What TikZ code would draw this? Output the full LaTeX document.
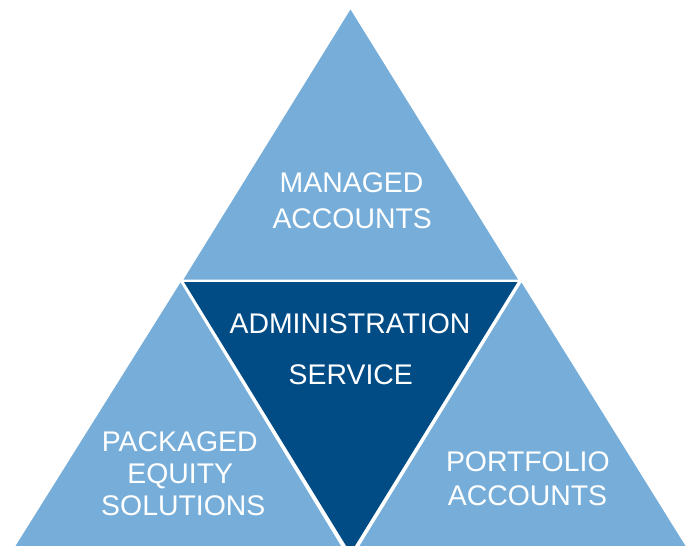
\documentclass[tikz,border=0pt]{standalone}
\usepackage{fontspec}
\setmainfont{Liberation Sans}
\definecolor{lightblu}{HTML}{76AED9}
\definecolor{darkblu}{HTML}{024C86}
\begin{document}
\begin{tikzpicture}[x=1pt,y=-1pt,
  lbl/.style={anchor=base,inner sep=0pt,text=white,font=\fontsize{28.4}{34}\selectfont},
  lighttri/.style={fill=lightblu},
  darktri/.style={fill=darkblu}]
\useasboundingbox (0,0) rectangle (691,546);
\clip (0,0) rectangle (691,546);
\fill[white] (0,0) rectangle (691,546);
% triangles
\fill[lighttri] (350.5,9.5) -- (183.5,279.5) -- (518,279.5) -- cycle;
\fill[darktri] (184,282) -- (517.5,282) -- (350.5,553) -- cycle;
\fill[lighttri] (180.5,282.5) -- (15.5,546) -- (341,546) -- cycle;
\fill[lighttri] (521.5,282.5) -- (359.5,546) -- (685.5,546) -- cycle;
% labels
\node[lbl] (ma1) at (351.5,192.3) {MANAGED};
\node[lbl] (ma2) at (352.2,228.3) {ACCOUNTS};
\node[lbl] (ad1) at (350,333.3) {ADMINISTRATION};
\node[lbl] (ad2) at (350.8,384) {SERVICE};
\node[lbl] (pe1) at (179.7,451.7) {PACKAGED};
\node[lbl] (pe2) at (180.3,483) {EQUITY};
\node[lbl] (pe3) at (183.3,515) {SOLUTIONS};
\node[lbl] (pa1) at (527.8,471.7) {PORTFOLIO};
\node[lbl] (pa2) at (527.5,505) {ACCOUNTS};
\end{tikzpicture}
\end{document}
